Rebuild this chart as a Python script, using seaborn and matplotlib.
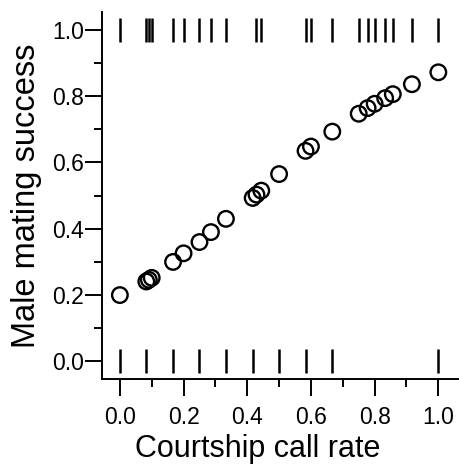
import matplotlib
matplotlib.use("Agg")
import matplotlib.pyplot as plt
from matplotlib.ticker import MultipleLocator
import seaborn as sns

# call rate of males that mated (y = 1) and did not (y = 0)
rate_mated = [0.0, 0.083, 0.091, 0.1, 0.167, 0.2, 0.25, 0.286, 0.333, 0.429, 0.444,
              0.583, 0.6, 0.667, 0.75, 0.778, 0.8, 0.833, 0.857, 0.917, 1.0]
rate_unmated = [0.0, 0.083, 0.167, 0.25, 0.333, 0.417, 0.5, 0.583, 0.667, 1.0]

# fitted mating success at each observed call rate
fit_rate = [0.0, 0.083, 0.091, 0.1, 0.167, 0.2, 0.25, 0.286, 0.333, 0.417, 0.429, 0.444,
            0.5, 0.583, 0.6, 0.667, 0.75, 0.778, 0.8, 0.833, 0.857, 0.917, 1.0]
fit_success = [0.20, 0.241, 0.246, 0.252, 0.30, 0.326, 0.36, 0.39, 0.43, 0.493, 0.503, 0.515,
               0.565, 0.635, 0.648, 0.693, 0.747, 0.764, 0.777, 0.794, 0.806, 0.836, 0.872]

sns.set_style("ticks")
plt.rcParams['font.family'] = ['Liberation Sans', 'DejaVu Sans']
plt.rcParams['text.color'] = 'black'
plt.rcParams['axes.labelcolor'] = 'black'
plt.rcParams['xtick.color'] = 'black'
plt.rcParams['ytick.color'] = 'black'

fig = plt.figure(figsize=(4.59, 4.67), dpi=100)
ax = fig.add_axes([0.2216, 0.1878, 0.7764, 0.7859])

# rug of observations at 0 and 1
sns.scatterplot(x=rate_mated, y=[1.0] * len(rate_mated), marker='|', s=275,
                color='black', linewidth=1.8, ax=ax)
sns.scatterplot(x=rate_unmated, y=[0.0] * len(rate_unmated), marker='|', s=275,
                color='black', linewidth=1.8, ax=ax)

# fitted values
sns.scatterplot(x=fit_rate, y=fit_success, s=125, facecolor='none', edgecolor='black',
                linewidth=1.7, ax=ax)

ax.set_xlim(-0.057, 1.062)
ax.set_ylim(-0.054, 1.053)

ax.xaxis.set_major_locator(MultipleLocator(0.2))
ax.xaxis.set_minor_locator(MultipleLocator(0.1))
ax.yaxis.set_major_locator(MultipleLocator(0.2))
ax.yaxis.set_minor_locator(MultipleLocator(0.1))
ax.xaxis.set_major_formatter(plt.FormatStrFormatter('%.1f'))
ax.yaxis.set_major_formatter(plt.FormatStrFormatter('%.1f'))

ax.tick_params(which='major', length=12, width=1.4, labelsize=16.5, pad=7)
ax.tick_params(which='minor', length=6, width=1.4)
ax.tick_params(axis='y', which='major', pad=1)

for side in ['left', 'bottom']:
    ax.spines[side].set_linewidth(1.4)
    ax.spines[side].set_color('black')
sns.despine(ax=ax)

ax.set_xlabel('Courtship call rate', fontsize=22)
ax.set_ylabel('Male mating success', fontsize=23.5)
ax.xaxis.set_label_coords(0.439, -0.15)
ax.yaxis.set_label_coords(-0.167, 0.5)

fig.savefig('out.png', dpi=100)
